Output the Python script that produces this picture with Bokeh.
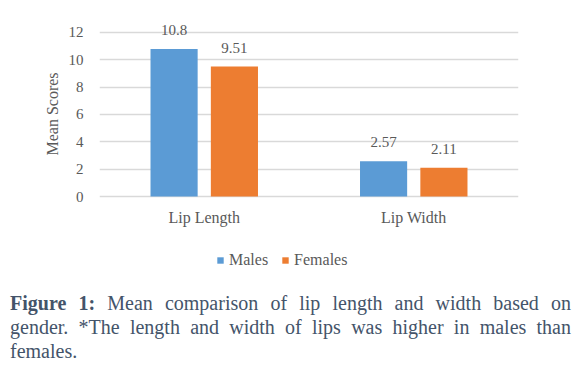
from bokeh.plotting import figure
from bokeh.models import (FactorRange, Range1d, ColumnDataSource, LabelSet, Legend,
                          LegendItem, FixedTicker, Div, Title)
from bokeh.transform import dodge
from bokeh.layouts import column
from bokeh.embed import file_html
from bokeh.resources import INLINE

categories = ["Lip Length", "Lip Width"]
males = [10.8, 2.57]
females = [9.51, 2.11]
male_labels = ["10.8", "2.57"]
female_labels = ["9.51", "2.11"]
y_ticks = [0, 2, 4, 6, 8, 10, 12]
series_names = ["Males", "Females"]
caption_lines = [
    "Mean comparison of lip length and width based on",
    "gender. *The length and width of lips was higher in males than",
    "females.",
]

FONT = "Liberation Serif"
GREY = "#595959"
BLUE = "#5B9BD5"
ORANGE = "#ED7D31"

src = ColumnDataSource(dict(cat=categories, males=males, females=females,
                            mlab=male_labels, flab=female_labels))

p = figure(x_range=FactorRange(*categories), y_range=Range1d(-6.146, 13.17),
           width=584, height=280, output_backend="svg", toolbar_location=None,
           min_border_left=99, min_border_right=66, min_border_top=16, min_border_bottom=0)
p.outline_line_color = None
p.background_fill_color = "white"

bw = 0.225
off = 0.144
r1 = p.vbar(x=dodge("cat", -off, range=p.x_range), top="males", width=bw, source=src,
            fill_color=BLUE, line_color=None)
r2 = p.vbar(x=dodge("cat", off, range=p.x_range), top="females", width=bw, source=src,
            fill_color=ORANGE, line_color=None)

for col, lab, o in [("males", "mlab", -off), ("females", "flab", off)]:
    ls = LabelSet(x=dodge("cat", o, range=p.x_range), y=col, text=lab, source=src,
                  y_offset=14, text_align="center", text_baseline="alphabetic",
                  text_font=FONT, text_font_size="15px", text_color=GREY)
    p.add_layout(ls)

p.xgrid.grid_line_color = None
p.ygrid.grid_line_color = "#d9d9d9"
p.ygrid.grid_line_width = 1.5
p.ygrid.ticker = FixedTicker(ticks=y_ticks)

p.yaxis.ticker = FixedTicker(ticks=y_ticks)
for ax in (p.xaxis[0], p.yaxis[0]):
    ax.axis_line_color = None
    ax.major_tick_line_color = None
    ax.minor_tick_line_color = None
    ax.major_label_text_font = FONT
    ax.major_label_text_color = GREY
p.yaxis.major_label_text_font_size = "15px"
p.yaxis.major_label_standoff = 10
p.xaxis.major_label_text_font_size = "16px"
p.xaxis.major_label_standoff = 6
p.xaxis.fixed_location = 0

ytitle = Title(text="Mean Scores", align="left", offset=125, text_font=FONT,
               text_font_size="16px", text_font_style="normal", text_color=GREY)
p.add_layout(ytitle, "left")

legend = Legend(items=[LegendItem(label=series_names[0], renderers=[r1]),
                       LegendItem(label=series_names[1], renderers=[r2])],
                orientation="horizontal", location=(117, 11),
                glyph_width=8, glyph_height=8, label_standoff=5, spacing=13,
                padding=0, margin=0, border_line_color=None, background_fill_alpha=0,
                label_text_font=FONT, label_text_font_size="16px", label_text_color=GREY)
p.add_layout(legend, "center")

line_style = "text-align:justify;text-align-last:justify;"
html = (
    '<div style="padding-top:6px;width:561px;margin-left:5px;'
    "font-family:'Liberation Serif';font-size:20px;line-height:24px;color:#44546a;\">"
    f'<div style="{line_style}"><b>Figure 1:</b> {caption_lines[0]}</div>'
    f'<div style="{line_style}">{caption_lines[1]}</div>'
    f'<div>{caption_lines[2]}</div>'
    '</div>'
)
cap = Div(text=html, width=584, height=84)

layout = column(p, cap, spacing=0)
open("out.html", "w").write(file_html(layout, INLINE))
